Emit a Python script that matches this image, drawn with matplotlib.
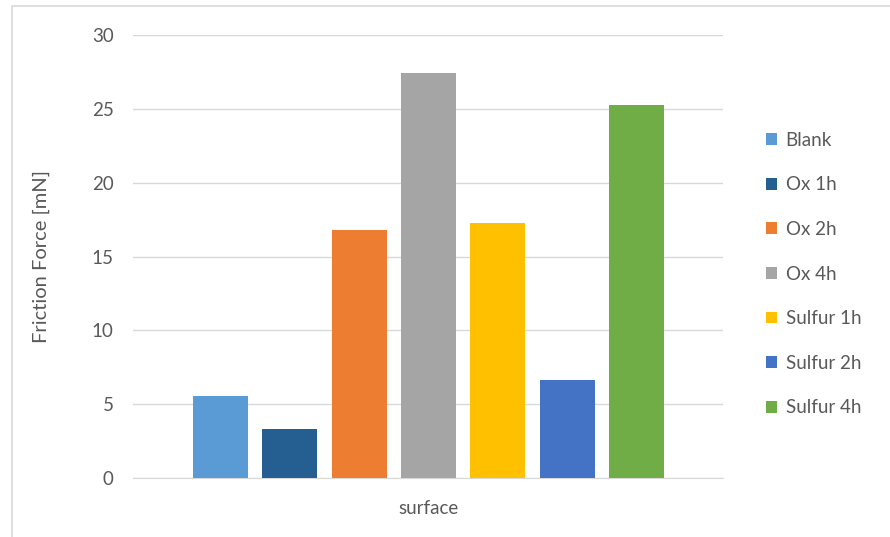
import matplotlib.pyplot as plt
from matplotlib.patches import Patch, Rectangle

# bar values
labels = ['Blank', 'Ox 1h', 'Ox 2h', 'Ox 4h', 'Sulfur 1h', 'Sulfur 2h', 'Sulfur 4h']
values = [5.55, 3.33, 16.8, 27.4, 17.3, 6.65, 25.25]
colors = ['#5B9BD5', '#255E91', '#ED7D31', '#A5A5A5', '#FFC000', '#4472C4', '#70AD47']
yticks = [0, 5, 10, 15, 20, 25, 30]

plt.rcParams['font.family'] = ['Lato', 'DejaVu Sans']
txt = '#595959'

fig = plt.figure(figsize=(8.9, 5.37), dpi=100)
fig.patches.append(Rectangle((12 / 890, -0.1), 1.2, (537 - 6) / 537 + 0.1,
                             transform=fig.transFigure, fill=False,
                             edgecolor='#d9d9d9', linewidth=1.2))

ax = fig.add_axes([133 / 890, 1 - 478 / 537, (723 - 133) / 890, (478 - 35) / 537])
xs = list(range(len(values)))
ax.bar(xs, values, width=0.795, color=colors, zorder=3)
ax.set_xlim(-1.263, 7.248)
ax.set_ylim(0, 30)
ax.set_yticks(yticks)
ax.yaxis.grid(True, color='#d9d9d9', linewidth=1, zorder=0)
for s in ['top', 'right', 'left']:
    ax.spines[s].set_visible(False)
ax.spines['bottom'].set_color('#d9d9d9')
ax.set_xticks([3])
ax.set_xticklabels(['surface'])
ax.tick_params(axis='both', length=0, labelsize=13.5, colors=txt)
ax.tick_params(axis='y', pad=14)
ax.tick_params(axis='x', pad=16)
ax.set_ylabel('Friction Force [mN]', fontsize=14.5, color=txt, labelpad=30)

handles = [Patch(facecolor=c, label=l) for c, l in zip(colors, labels)]
fig.legend(handles=handles, loc='upper left', bbox_to_anchor=(749 / 890, 1 - 115 / 537),
           frameon=False, fontsize=13.5, labelcolor=txt, handlelength=0.6,
           handleheight=0.6, handletextpad=0.45, labelspacing=1.47)

plt.savefig('out.png', dpi=100)
